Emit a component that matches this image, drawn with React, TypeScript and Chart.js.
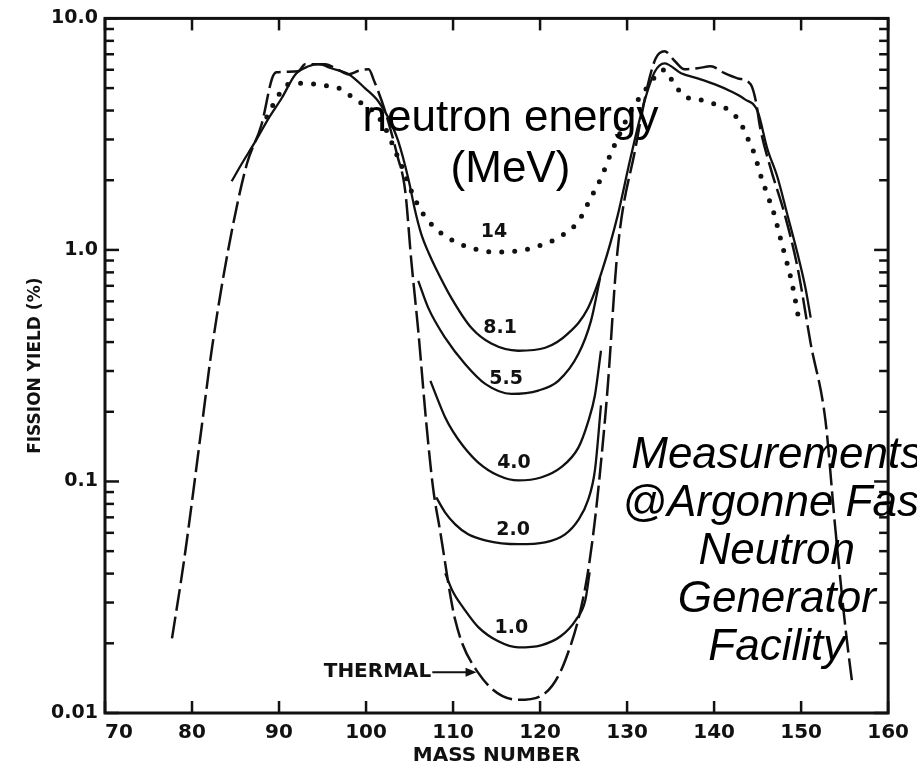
import React, { useEffect, useRef } from "react";
import { Chart, registerables } from "chart.js";

Chart.register(...registerables);

const INK = "#111111";
const LETTER_FONT = "'DejaVu Sans', 'Liberation Sans', sans-serif";
const NOTE_FONT = "'Liberation Sans', Arial, sans-serif";

// ---- axes ----
const xTickValues = [70, 80, 90, 100, 110, 120, 130, 140, 150, 160];
const xTickLabels = ["\u2007\u200770", "80", "90", "100", "110", "120", "130", "140", "150", "160"];
const yTickValues = [0.01, 0.1, 1, 10];
const yTickLabels = ["0.01", "0.1", "1.0", "10.0"];

// ---- thermal (dashed) ----
const thermalMass = [77.7, 79.1, 81.1, 82.3, 84.2, 86.3, 88.0, 89.2, 89.7, 92.2, 93.0, 95.3, 96.8, 98.0, 99.2, 100.3, 100.9, 102.2, 103.6, 104.5, 105.2, 106.0, 106.9, 107.7, 108.5, 110.25, 112.9, 117.5, 120.6, 122.9, 125.2, 126.3, 127.45, 127.8, 128.9, 131.0, 132.4, 133.3, 134.3, 135.5, 136.6, 138.1, 139.6, 141.2, 142.7, 144.2, 144.8, 145.3, 146.5, 148.1, 149.6, 151.1, 152.8, 153.9, 155.1, 155.9];
const thermalYield = [0.021, 0.046, 0.171, 0.378, 1.02, 2.35, 3.49, 5.5, 5.85, 5.91, 6.34, 6.34, 6.0, 5.74, 5.95, 6.03, 5.4, 3.97, 2.55, 1.8, 0.9, 0.448, 0.183, 0.094, 0.0615, 0.0252, 0.0149, 0.0114, 0.0122, 0.0169, 0.0349, 0.0679, 0.183, 0.264, 0.99, 2.8, 5.19, 6.73, 7.21, 6.53, 6.03, 6.09, 6.21, 5.8, 5.51, 5.19, 4.39, 3.36, 2.25, 1.43, 0.836, 0.394, 0.183, 0.0645, 0.0232, 0.0132];

// ---- 8.1 MeV (solid, full envelope) ----
const mev81Mass = [84.56, 85.7, 87.3, 88.8, 90.3, 91.9, 93.4, 94.5, 96.0, 98.0, 99.9, 101.4, 102.6, 103.7, 104.9, 105.6, 106.35, 107.2, 108.0, 109.8, 112.1, 114.4, 117.5, 120.6, 123.2, 125.5, 127.2, 128.9, 130.4, 132.0, 133.2, 134.3, 136.2, 138.1, 140.1, 141.9, 143.5, 145.0, 146.1, 147.3, 148.4, 149.6, 150.5, 151.1];
const mev81Yield = [1.98, 2.35, 2.95, 3.7, 4.52, 5.74, 6.21, 6.34, 6.09, 5.74, 4.99, 4.39, 3.7, 2.95, 2.0, 1.5, 1.17, 0.97, 0.836, 0.621, 0.461, 0.394, 0.367, 0.378, 0.435, 0.56, 0.83, 1.4, 2.5, 4.39, 5.9, 6.4, 5.8, 5.51, 5.19, 4.85, 4.48, 3.97, 2.75, 2.05, 1.43, 0.96, 0.685, 0.51];

// ---- 5.5 MeV ----
const mev55Mass = [106.0, 107.15, 109.1, 111.4, 113.7, 116.7, 119.8, 122.1, 124.4, 125.85, 126.9];
const mev55Yield = [0.735, 0.562, 0.417, 0.321, 0.264, 0.239, 0.247, 0.272, 0.355, 0.494, 0.757];

// ---- 4.0 MeV ----
const mev40Mass = [107.4, 108.3, 109.1, 110.0, 111.2, 112.9, 115.2, 117.5, 120.1, 122.4, 124.4, 125.5, 126.3, 127.0];
const mev40Yield = [0.272, 0.223, 0.189, 0.164, 0.1416, 0.1207, 0.1061, 0.101, 0.104, 0.115, 0.14, 0.18, 0.235, 0.367];

// ---- 2.0 MeV ----
const mev20Mass = [108.07, 109.1, 110.25, 111.74, 113.69, 117.48, 120.57, 122.87, 124.36, 125.5, 126.3, 127.0];
const mev20Yield = [0.0853, 0.0734, 0.0653, 0.0591, 0.0557, 0.0536, 0.0546, 0.0591, 0.0679, 0.0828, 0.1115, 0.213];

// ---- 1.0 MeV ----
const mev10Mass = [109.1, 110.0, 111.2, 112.9, 115.2, 117.5, 120.1, 122.4, 124.1, 125.2, 125.7];
const mev10Yield = [0.0401, 0.0333, 0.0284, 0.0235, 0.0204, 0.0192, 0.0196, 0.0215, 0.0252, 0.0307, 0.0405];

// ---- 14 MeV (dotted) ----
const mev14Mass = [88.6, 90.0, 91.1, 92.6, 94.2, 95.7, 97.2, 98.3, 99.5, 101.1, 102.2, 103.5, 104.4, 105.2, 106.35, 108.3, 110.6, 112.9, 114.8, 117.5, 119.8, 122.1, 124.4, 125.8, 127.0, 128.1, 129.3, 130.4, 132.0, 133.5, 134.3, 135.3, 136.6, 138.1, 140.1, 141.9, 143.05, 143.85, 144.65, 145.3, 146.1, 146.9, 147.5, 148.1, 148.7, 149.2, 149.8];
const mev14Yield = [3.75, 4.7, 5.2, 5.25, 5.2, 5.1, 4.94, 4.61, 4.3, 3.89, 3.36, 2.6, 2.15, 1.8, 1.47, 1.21, 1.07, 1.0, 0.98, 0.99, 1.04, 1.13, 1.33, 1.67, 2.04, 2.59, 3.26, 3.97, 4.85, 5.74, 6.0, 5.3, 4.61, 4.48, 4.26, 3.97, 3.53, 3.04, 2.59, 2.13, 1.74, 1.43, 1.17, 0.96, 0.79, 0.646, 0.484];

// ---- curve labels ----
const curveLabelTexts = ["14", "8.1", "5.5", "4.0", "2.0", "1.0"];
const curveLabelMass = [114.7, 115.4, 116.1, 117.0, 116.9, 116.7];
const curveLabelYield = [1.2, 0.461, 0.277, 0.12, 0.0615, 0.0233];

const thermalLabelText = "THERMAL";
const thermalLabelMass = 107.5;
const thermalArrowTipMass = 112.7;
const thermalLabelYield = 0.015;

// ---- notes ----
const energyNoteLines = ["neutron energy", "(MeV)"];
const energyNoteMass = 116.6;
const energyNoteYield = 3.26;
const facilityNoteLines = ["Measurements", "@Argonne Fast", "Neutron", "Generator", "Facility"];
const facilityNoteMass = 147.2;
const facilityNoteYield = 0.1148;

const toPoints = (xs: number[], ys: number[]) => xs.map((x, i) => ({ x, y: ys[i] }));

const isDecade = (v: number) => {
  const l = Math.log10(v);
  return Math.abs(l - Math.round(l)) < 1e-6;
};

const decorations = {
  id: "decorations",
  afterDraw(chart: any) {
    const { ctx, chartArea: a, scales } = chart;
    const xs = scales.x;
    const ys = scales.y;
    const line = (x1: number, y1: number, x2: number, y2: number) => {
      ctx.beginPath();
      ctx.moveTo(x1, y1);
      ctx.lineTo(x2, y2);
      ctx.stroke();
    };
    ctx.save();
    ctx.strokeStyle = INK;
    ctx.fillStyle = INK;
    ctx.lineCap = "butt";
    // frame
    ctx.lineWidth = 3;
    ctx.strokeRect(a.left, a.top, a.right - a.left, a.bottom - a.top);
    // x ticks (inward, top and bottom)
    ctx.lineWidth = 2.5;
    xTickValues.forEach((v) => {
      const px = xs.getPixelForValue(v);
      line(px, a.bottom, px, a.bottom - 12);
      line(px, a.top, px, a.top + 12);
    });
    // y ticks (inward, left and right)
    ys.ticks.forEach((t: any) => {
      const py = ys.getPixelForValue(t.value);
      const len = isDecade(t.value) ? 14 : 9;
      line(a.left, py, a.left + len, py);
      line(a.right, py, a.right - len, py);
    });

    // curve labels
    ctx.font = `bold 19px ${LETTER_FONT}`;
    ctx.textAlign = "center";
    ctx.textBaseline = "middle";
    curveLabelTexts.forEach((t, i) => {
      ctx.fillText(t, xs.getPixelForValue(curveLabelMass[i]), ys.getPixelForValue(curveLabelYield[i]));
    });

    // THERMAL label with arrow
    const ty = ys.getPixelForValue(thermalLabelYield);
    const tx = xs.getPixelForValue(thermalLabelMass);
    const tip = xs.getPixelForValue(thermalArrowTipMass);
    ctx.font = `bold 20px ${LETTER_FONT}`;
    ctx.textAlign = "right";
    ctx.fillText(thermalLabelText, tx, ty);
    ctx.lineWidth = 2;
    line(tx + 1, ty, tip - 8, ty);
    ctx.beginPath();
    ctx.moveTo(tip, ty);
    ctx.lineTo(tip - 11, ty - 4.5);
    ctx.lineTo(tip - 11, ty + 4.5);
    ctx.closePath();
    ctx.fill();

    // notes
    ctx.fillStyle = "#000";
    ctx.textAlign = "center";
    ctx.textBaseline = "alphabetic";
    ctx.font = `44px ${NOTE_FONT}`;
    const ex = xs.getPixelForValue(energyNoteMass);
    const ey = ys.getPixelForValue(energyNoteYield);
    energyNoteLines.forEach((t, i) => ctx.fillText(t, ex, ey + i * 51));
    ctx.font = `italic 44px ${NOTE_FONT}`;
    const fx = xs.getPixelForValue(facilityNoteMass);
    const fy = ys.getPixelForValue(facilityNoteYield);
    facilityNoteLines.forEach((t, i) => ctx.fillText(t, fx, fy + i * 48));
    ctx.restore();
  },
};

export default function App() {
  const ref = useRef<HTMLCanvasElement>(null);
  useEffect(() => {
    document.body.style.margin = "0";
    const canvas = ref.current;
    if (!canvas) return;
    const solid = { borderColor: INK, borderWidth: 2.3, pointRadius: 0, fill: false, cubicInterpolationMode: "monotone" as const };
    const chart = new Chart(canvas, {
      type: "line",
      data: {
        datasets: [
          { ...solid, label: "thermal", data: toPoints(thermalMass, thermalYield), borderWidth: 2.5, borderDash: [22, 6] },
          { ...solid, label: "14", data: toPoints(mev14Mass, mev14Yield), borderWidth: 5, borderDash: [0, 13], borderCapStyle: "round" },
          { ...solid, label: "8.1", data: toPoints(mev81Mass, mev81Yield) },
          { ...solid, label: "5.5", data: toPoints(mev55Mass, mev55Yield) },
          { ...solid, label: "4.0", data: toPoints(mev40Mass, mev40Yield) },
          { ...solid, label: "2.0", data: toPoints(mev20Mass, mev20Yield) },
          { ...solid, label: "1.0", data: toPoints(mev10Mass, mev10Yield) },
        ],
      },
      options: {
        animation: false,
        responsive: false,
        devicePixelRatio: 1,
        layout: { padding: { top: 17, right: 26, bottom: 0, left: 0 } },
        plugins: { legend: { display: false }, tooltip: { enabled: false } },
        scales: {
          x: {
            type: "linear",
            min: 70,
            max: 160,
            afterBuildTicks: (s: any) => {
              s.ticks = xTickValues.map((v) => ({ value: v }));
            },
            afterFit: (s: any) => {
              s.height = 55;
            },
            grid: { display: false, drawTicks: false },
            border: { display: false },
            ticks: {
              autoSkip: false,
              maxRotation: 0,
              padding: 8,
              color: INK,
              font: { family: LETTER_FONT, weight: "bold", size: 20 },
              callback: (v: any) => {
                const i = xTickValues.indexOf(Number(v));
                return i >= 0 ? xTickLabels[i] : "";
              },
            },
            title: {
              display: true,
              text: "MASS NUMBER",
              color: INK,
              font: { family: LETTER_FONT, weight: "bold", size: 20 },
              padding: { top: 0, bottom: 0 },
            },
          },
          y: {
            type: "logarithmic",
            min: 0.01,
            max: 10,
            afterBuildTicks: (s: any) => {
              const t: { value: number }[] = [];
              [0.01, 0.1, 1].forEach((d) => {
                for (let m = 1; m <= 9; m++) t.push({ value: +(m * d).toPrecision(6) });
              });
              t.push({ value: 10 });
              s.ticks = t;
            },
            afterFit: (s: any) => {
              s.width = 105;
            },
            grid: { display: false, drawTicks: false },
            border: { display: false },
            ticks: {
              autoSkip: false,
              padding: 7,
              color: INK,
              font: { family: LETTER_FONT, weight: "bold", size: 19 },
              callback: (v: any) => {
                const n = Number(v);
                const i = yTickValues.findIndex((t) => Math.abs(n - t) / t < 1e-6);
                return i >= 0 ? yTickLabels[i] : "";
              },
            },
            title: {
              display: true,
              text: "FISSION YIELD (%)",
              color: INK,
              font: { family: LETTER_FONT, weight: "bold", size: 17 },
              padding: { top: 25, bottom: 0 },
            },
          },
        },
      },
      plugins: [decorations],
    } as any);
    return () => chart.destroy();
  }, []);
  return (
    <div style={{ width: 917, height: 768, position: "relative", background: "#fff" }}>
      <canvas ref={ref} width={917} height={768} style={{ display: "block" }} />
    </div>
  );
}
